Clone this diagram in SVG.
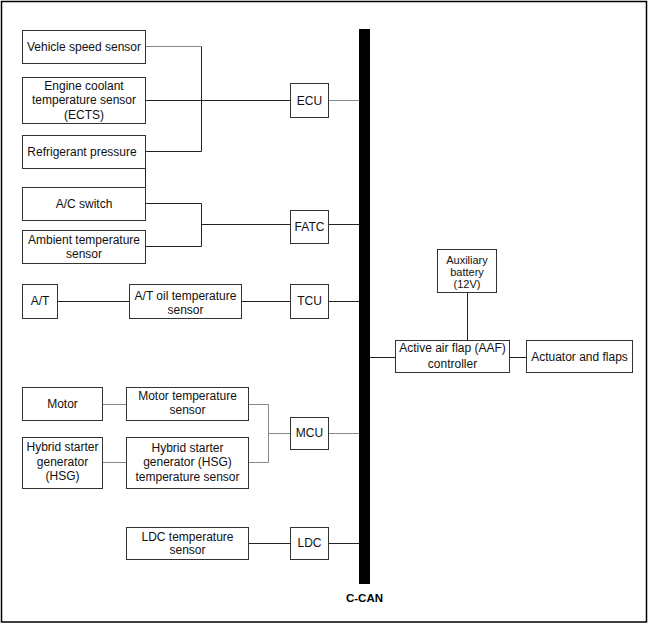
<svg xmlns="http://www.w3.org/2000/svg" width="650" height="628" viewBox="0 0 650 628">
<style>
.bx{fill:#fff;stroke:#333;stroke-width:1}
.t{font-family:"Liberation Sans",Arial,sans-serif;font-size:12px;fill:#111;text-anchor:middle}
.s{font-size:11px}
.ln{fill:none;stroke:#222;stroke-width:1}
.lt{fill:none;stroke:#888;stroke-width:1}
.cap{font-family:"Liberation Sans",Arial,sans-serif;font-size:11.5px;font-weight:bold;fill:#000;text-anchor:middle}
</style>
<rect x="0" y="0" width="650" height="628" fill="#fff"/>
<rect x="1.5" y="1.5" width="645" height="620.5" fill="none" stroke="#000" stroke-width="1.5"/>
<g id="connectors">
<polyline class="lt" points="145.5,46.5 201.5,46.5"/>
<polyline class="ln" points="201.5,46.5 201.5,151.5 145.5,151.5"/>
<line class="ln" x1="145.5" y1="100.5" x2="290.5" y2="100.5"/>
<line class="lt" x1="328.5" y1="100.5" x2="359" y2="100.5"/>
<line class="ln" x1="145.5" y1="168.5" x2="145.5" y2="187.5"/>
<polyline class="ln" points="145.5,203.5 201.5,203.5 201.5,246.5 145.5,246.5"/>
<line class="ln" x1="201.5" y1="224.5" x2="290.5" y2="224.5"/>
<line class="ln" x1="328.5" y1="224.5" x2="359" y2="224.5"/>
<line class="ln" x1="57.5" y1="301.5" x2="129.5" y2="301.5"/>
<line class="ln" x1="241.5" y1="301.5" x2="290.5" y2="301.5"/>
<line class="ln" x1="328.5" y1="301.5" x2="359" y2="301.5"/>
<line class="ln" x1="370" y1="357.5" x2="395.5" y2="357.5"/>
<line class="ln" x1="509.5" y1="357.5" x2="526.5" y2="357.5"/>
<line class="ln" x1="467.5" y1="292.5" x2="467.5" y2="340.5"/>
<line class="lt" x1="102.5" y1="404.5" x2="126.5" y2="404.5"/>
<polyline class="lt" points="248.5,404.5 268.5,404.5 268.5,462.5 248.5,462.5"/>
<line class="lt" x1="268.5" y1="433.5" x2="290.5" y2="433.5"/>
<line class="lt" x1="328.5" y1="433.5" x2="359" y2="433.5"/>
<line class="lt" x1="102.5" y1="462.5" x2="126.5" y2="462.5"/>
<line class="ln" x1="248.5" y1="543.5" x2="290.5" y2="543.5"/>
<line class="ln" x1="328.5" y1="543.5" x2="359" y2="543.5"/>
</g>
<g id="ccan">
<rect x="359" y="29" width="11" height="555" fill="#000"/>
<text class="cap" x="364.5" y="602">C-CAN</text>
</g>
<g id="vss"><rect class="bx" x="22.5" y="30.5" width="123" height="33"/><text class="t" x="84" y="51">Vehicle speed sensor</text></g>
<g id="ects"><rect class="bx" x="22.5" y="77.5" width="123" height="46"/><text class="t" x="84" y="90">Engine coolant</text><text class="t" x="84" y="104">temperature sensor</text><text class="t" x="84" y="119">(ECTS)</text></g>
<g id="refrig"><rect class="bx" x="22.5" y="135.5" width="123" height="33"/><text class="t" x="82" y="156">Refrigerant pressure</text></g>
<g id="acsw"><rect class="bx" x="22.5" y="187.5" width="123" height="33"/><text class="t" x="84" y="208">A/C switch</text></g>
<g id="ambient"><rect class="bx" x="22.5" y="230.5" width="123" height="33"/><text class="t" x="84" y="244">Ambient temperature</text><text class="t" x="84" y="258">sensor</text></g>
<g id="ecu"><rect class="bx" x="290.5" y="83.5" width="38" height="34"/><text class="t" x="309.5" y="105">ECU</text></g>
<g id="fatc"><rect class="bx" x="290.5" y="210.5" width="38" height="33"/><text class="t" x="309.5" y="231">FATC</text></g>
<g id="at"><rect class="bx" x="22.5" y="284.5" width="35" height="34"/><text class="t" x="40" y="305">A/T</text></g>
<g id="atoil"><rect class="bx" x="129.5" y="284.5" width="112" height="34"/><text class="t" x="185.5" y="300">A/T oil temperature</text><text class="t" x="185.5" y="314">sensor</text></g>
<g id="tcu"><rect class="bx" x="290.5" y="284.5" width="38" height="34"/><text class="t" x="309.5" y="305">TCU</text></g>
<g id="auxbat"><rect class="bx" x="437.5" y="249.5" width="59" height="43"/><text class="t s" x="467" y="263.5">Auxiliary</text><text class="t s" x="467" y="275.5">battery</text><text class="t s" x="467" y="287.5">(12V)</text></g>
<g id="aaf"><rect class="bx" x="395.5" y="340.5" width="114" height="32"/><text class="t" x="452.5" y="352">Active air flap (AAF)</text><text class="t" x="452.5" y="368">controller</text></g>
<g id="actuator"><rect class="bx" x="526.5" y="340.5" width="106" height="32"/><text class="t" x="579.5" y="361">Actuator and flaps</text></g>
<g id="motor"><rect class="bx" x="22.5" y="387.5" width="80" height="33"/><text class="t" x="62.5" y="408">Motor</text></g>
<g id="motortemp"><rect class="bx" x="126.5" y="387.5" width="122" height="33"/><text class="t" x="187.5" y="400">Motor temperature</text><text class="t" x="187.5" y="414">sensor</text></g>
<g id="hsg"><rect class="bx" x="22.5" y="437.5" width="80" height="51"/><text class="t" x="62.5" y="451">Hybrid starter</text><text class="t" x="62.5" y="466">generator</text><text class="t" x="62.5" y="480">(HSG)</text></g>
<g id="hsgtemp"><rect class="bx" x="126.5" y="437.5" width="122" height="51"/><text class="t" x="187.5" y="452">Hybrid starter</text><text class="t" x="187.5" y="466">generator (HSG)</text><text class="t" x="187.5" y="481">temperature sensor</text></g>
<g id="mcu"><rect class="bx" x="290.5" y="417.5" width="38" height="32"/><text class="t" x="309.5" y="437">MCU</text></g>
<g id="ldctemp"><rect class="bx" x="126.5" y="527.5" width="122" height="32"/><text class="t" x="187.5" y="541">LDC temperature</text><text class="t" x="187.5" y="554">sensor</text></g>
<g id="ldc"><rect class="bx" x="290.5" y="527.5" width="38" height="32"/><text class="t" x="309.5" y="547">LDC</text></g>
</svg>
